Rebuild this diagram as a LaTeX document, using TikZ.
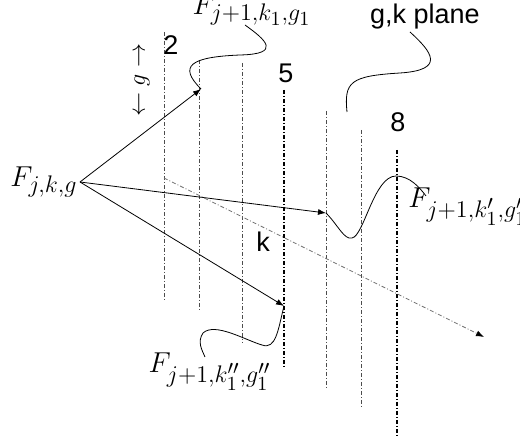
\documentclass[tikz,border=0pt]{standalone}
\usepackage{amsmath, amssymb}
\usepackage{fontspec}
\setsansfont{Liberation Sans}
\DeclareMathSizes{14.4}{14.4}{12}{10}
\DeclareMathSizes{12}{12}{10}{8}
\usepackage{tikz}
\usetikzlibrary{arrows.meta}

\begin{document}
\begin{tikzpicture}[x=0.5pt, y=-0.5pt, font=\Large]
        \tikzstyle{plane} = [dash pattern=on 2pt off 1pt on 0.5pt off 1pt, thin, black!70]
        \tikzstyle{bold plane} = [dash pattern=on 2pt off 1pt on 0.5pt off 1pt, semithick]
        \tikzstyle{num} = [font=\fontsize{13.5}{15}\sffamily, inner sep=1pt]
        \tikzstyle{lbl} = [inner sep=1pt]
        \useasboundingbox (0,0) rectangle (520,437);
        % g,k planes
        \draw[plane] (164,32) -- (164,302);
        \draw[plane] (199,60) -- (199,312);
        \draw[plane] (242,63) -- (242,343);
        \draw[bold plane] (284,90) -- (284,368);
        \draw[plane] (326,111) -- (326,388);
        \draw[plane] (361,130) -- (361,408);
        \draw[bold plane] (397,150) -- (397,437);
        \node[num] (two) at (171,45) {2};
        \node[num] (five) at (286,73) {5};
        \node[num] (eight) at (398,122) {8};
        \node[num] (kax) at (263,242) {k};
        \node[num] (plane) at (425,17) {g,k plane};
        \node[rotate=90, inner sep=1pt, font=\large] (gax) at (142,80) {$\leftarrow g \rightarrow$};
        % source and targets
        \coordinate (src) at (80,182);
        \coordinate (t1) at (201,89);
        \coordinate (t2) at (326,213);
        \coordinate (t3) at (284,306);
        \coordinate (kstart) at (164,178);
        \coordinate (kend) at (484,337);
        \node[lbl, anchor=east] (Fjkg) at (src) {$F_{j,k,g}$};
        \node[lbl] (F1) at (252,10) {$F_{j+1,k_1,g_1}$};
        \node[lbl, anchor=west] (F2) at (406,207) {$F_{j+1,k'_1,g'_1}$};
        \node[lbl] (F3) at (210,372) {$F_{j+1,k''_1,g''_1}$};
        \draw[-{Latex[length=4pt, width=3pt]}] (src) -- (t1);
        \draw[-{Latex[length=4pt, width=3pt]}] (src) -- (t2);
        \draw[-{Latex[length=4pt, width=3pt]}] (src) -- (t3);
        \draw[-{Latex[length=4pt, width=3pt, color=black]}, dash pattern=on 2pt off 1pt on 0.5pt off 1pt, black!55] (kstart) -- (kend);
        % callouts
        \draw (245,25) .. controls (266,40) and (282,54) .. (240,55) .. controls (190,57) and (178,66) .. (t1);
        \draw (410,32) .. controls (432,52) and (446,70) .. (400,73) .. controls (350,76) and (344,82) .. (347,112);
        \draw (t2) .. controls (338,225) and (344,240) .. (352,238) .. controls (364,236) and (374,176) .. (396,176) .. controls (410,176) and (420,188) .. (426,196);
        \draw (t3) .. controls (278,330) and (276,350) .. (262,345) .. controls (245,340) and (215,322) .. (203,333) .. controls (197,342) and (202,350) .. (205,357);
      \end{tikzpicture}
\end{document}
